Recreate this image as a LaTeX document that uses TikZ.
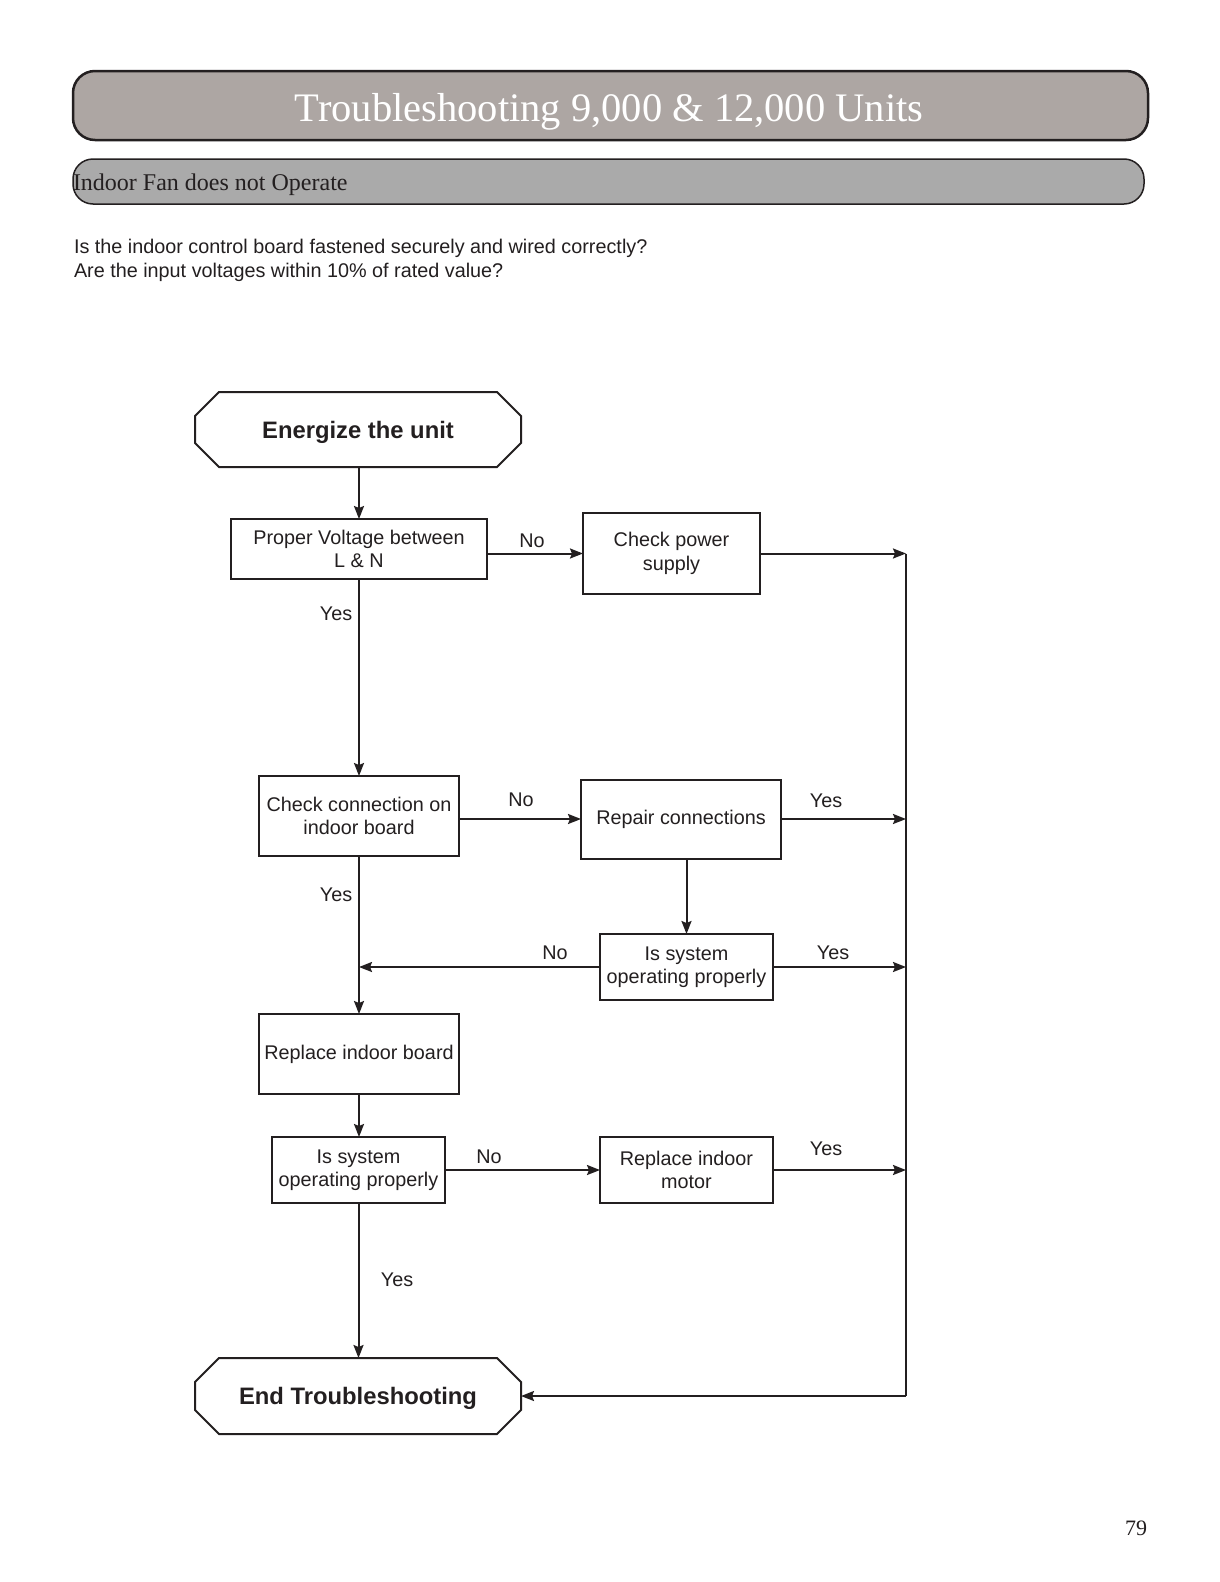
\documentclass[tikz,border=0pt]{standalone}
\usepackage{fontspec}
\setmainfont{Liberation Serif}
\setsansfont{Liberation Sans}
\usetikzlibrary{arrows.meta,calc}
\definecolor{ink}{HTML}{231F20}
\definecolor{titlefill}{HTML}{ADA6A3}
\definecolor{subfill}{HTML}{AAAAAA}
\newcommand\octframe[1]{%
  \draw[draw=ink, line width=2pt, line join=miter]
    ($(#1.north west)+(24pt,0pt)$) -- ($(#1.north east)+(-24pt,0pt)$) --
    ($(#1.north east)+(0pt,-24pt)$) -- ($(#1.south east)+(0pt,24pt)$) --
    ($(#1.south east)+(-24pt,0pt)$) -- ($(#1.south west)+(24pt,0pt)$) --
    ($(#1.south west)+(0pt,24pt)$) -- ($(#1.north west)+(0pt,-24pt)$) -- cycle;}
\begin{document}
\begin{tikzpicture}[x=1pt,y=-1pt,
  every node/.style={inner sep=0pt, outer sep=0pt, text=ink},
  stepbox/.style={draw=ink, line width=2pt, rectangle, align=center,
    font=\sffamily\fontsize{19.8}{23.5}\selectfont},
  termbox/.style={rectangle, align=center, text height=17pt, text depth=0pt,
    font=\sffamily\bfseries\fontsize{23.8}{28}\selectfont},
  arr/.style={draw=ink, line width=2pt, -{Stealth[length=13pt,width=10pt,inset=2pt]}},
  plainline/.style={draw=ink, line width=2pt},
  lbl/.style={font=\sffamily\fontsize{19.8}{24}\selectfont},
]
\useasboundingbox[fill=white] (0,0) rectangle (1219,1582);

% header bars
\node[draw=ink, line width=2.5pt, fill=titlefill, rounded corners=22pt,
      minimum width=1075pt, minimum height=69pt] (titlebar) at (610.5,105.5) {};
\node[font=\fontsize{40.5}{48}\selectfont, text=white, anchor=base] (title) at (609,121.5)
  {Troubleshooting 9,000 \& 12,000 Units};
\node[draw=ink, line width=1.5pt, fill=subfill, rounded corners=20pt,
      minimum width=1071pt, minimum height=45pt] (subbar) at (608.5,181.5) {};
\node[font=\fontsize{24}{28}\selectfont, anchor=base west] (subtitle) at (73,190.5)
  {Indoor Fan does not Operate};

% question text
\node[font=\sffamily\fontsize{19.8}{24}\selectfont, anchor=base west] (q1) at (74,253)
  {Is the indoor control board fastened securely and wired correctly?};
\node[font=\sffamily\fontsize{19.8}{24}\selectfont, anchor=base west] (q2) at (74,277)
  {Are the input voltages within 10\% of rated value?};

% terminals
\node[termbox, minimum width=326pt, minimum height=75pt] (start) at (358,429.5) {Energize the unit};
\octframe{start}
\node[termbox, minimum width=326pt, minimum height=76pt] (finish) at (358,1396) {End Troubleshooting};
\octframe{finish}

% process boxes
\node[stepbox, minimum width=256pt, minimum height=60pt] (b1) at (359,549) {Proper Voltage between\\L \& N};
\node[stepbox, minimum width=177pt, minimum height=81pt] (b2) at (671.5,553.5) {Check power\\supply};
\node[stepbox, minimum width=200pt, minimum height=80pt] (b3) at (359,816) {Check connection on\\indoor board};
\node[stepbox, minimum width=200pt, minimum height=79pt] (b4) at (681,819) {Repair connections};
\node[stepbox, minimum width=173pt, minimum height=66pt] (b5) at (686.5,967) {Is system\\operating properly};
\node[stepbox, minimum width=200pt, minimum height=80pt] (b6) at (359,1054) {Replace indoor board};
\node[stepbox, minimum width=173pt, minimum height=66pt] (b7) at (358.5,1170) {Is system\\operating properly};
\node[stepbox, minimum width=173pt, minimum height=66pt] (b8) at (686.5,1170) {Replace indoor\\motor};

% right collector line
\coordinate (rtop) at (906,553.5);
\coordinate (rbot) at (906,1396);
\draw[plainline] (rtop) -- (rbot);
\coordinate (join) at (359,967);

% connectors
\draw[arr] (start.south -| b1.north) -- (b1.north);
\draw[arr] (b1.east |- b2.west) -- (b2.west);
\draw[arr] (b2.east) -- (rtop);
\draw[arr] (b1.south) -- (b3.north);
\draw[arr] (b3.east |- b4.west) -- (b4.west);
\draw[arr] (b4.east) -- (b4.east -| rtop);
\draw[arr] (b4.south -| b5.north) -- (b5.north);
\draw[arr] (b5.west) -- (join);
\draw[arr] (b5.east) -- (b5.east -| rtop);
\draw[arr] (b3.south) -- (b6.north);
\draw[arr] (b6.south) -- (b6.south |- b7.north);
\draw[arr] (b7.east) -- (b8.west);
\draw[arr] (b8.east) -- (b8.east -| rtop);
\draw[arr] (b7.south) -- (b7.south |- finish.north);
\draw[arr] (rbot) -- (finish.east);

% labels
\node[lbl] (l1) at (532,541) {No};
\node[lbl] (l2) at (336,614) {Yes};
\node[lbl] (l3) at (521,800) {No};
\node[lbl] (l4) at (826,801) {Yes};
\node[lbl] (l5) at (555,953) {No};
\node[lbl] (l6) at (833,953) {Yes};
\node[lbl] (l7) at (336,895) {Yes};
\node[lbl] (l8) at (489,1157) {No};
\node[lbl] (l9) at (826,1149) {Yes};
\node[lbl] (l10) at (397,1280) {Yes};

% page number
\node[font=\fontsize{22}{26}\selectfont] (pagenum) at (1136,1528) {79};
\end{tikzpicture}
\end{document}
